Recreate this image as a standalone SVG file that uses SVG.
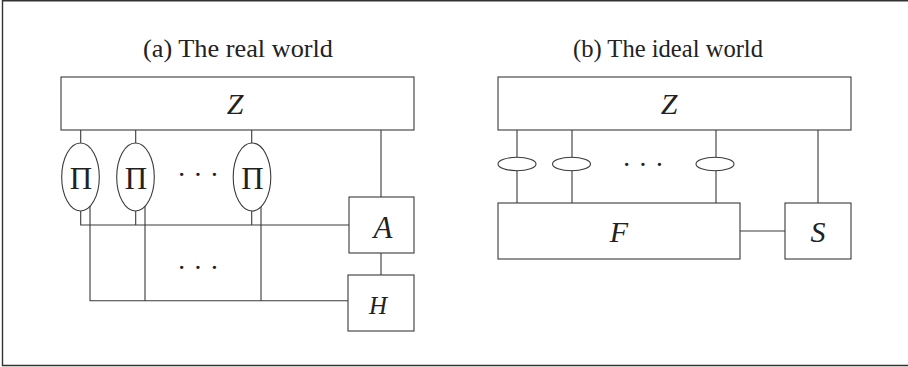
<svg xmlns="http://www.w3.org/2000/svg" width="908" height="367" viewBox="0 0 908 367">
<style>
.ln{stroke:#3a3a3a;stroke-width:1.1;fill:none}
.bx{stroke:#3a3a3a;stroke-width:1.1;fill:#fff}
.t{font-family:"Liberation Serif","DejaVu Serif",serif;fill:#222;text-anchor:middle}
.ttl{font-size:25px}
.m{font-style:italic;font-size:30px}
.pi{font-size:31px}
.dots{font-size:28px}
</style>
<rect x="0" y="0" width="908" height="367" fill="#fff"/>
<path d="M908,0.7 H2.5 V365.5 H908" fill="none" stroke="#333" stroke-width="1.4"/>
<text class="t ttl" x="238" y="57" textLength="190" lengthAdjust="spacingAndGlyphs">(a) The real world</text>
<text class="t ttl" x="668" y="57" textLength="190" lengthAdjust="spacingAndGlyphs">(b) The ideal world</text>
<g id="connectors">
<path class="ln" d="M80.7,130 V143 M135.7,130 V143 M251.7,130 V143 M381,130 V197"/>
<path class="ln" d="M80.7,210 V225 H349 M135.7,210 V225 M251.7,210 V225"/>
<path class="ln" d="M90,206 V300.7 H348 M145,206 V300.7 M261,206 V300.7"/>
<path class="ln" d="M381,253 V275"/>
<path class="ln" d="M517,130 V203 M572,130 V203 M716,130 V203 M818,130 V203"/>
<path class="ln" d="M740,231 H785"/>
</g>
<g id="Z-real"><rect class="bx" x="61" y="77" width="353" height="53"/><text class="t m" x="235" y="114">Z</text></g>
<g id="Pi-1"><ellipse class="bx" cx="80.5" cy="177" rx="18.8" ry="34"/><text class="t pi" x="81" y="188.5">Π</text></g>
<g id="Pi-2"><ellipse class="bx" cx="135.5" cy="177" rx="18.8" ry="34"/><text class="t pi" x="136" y="188.5">Π</text></g>
<g id="Pi-3"><ellipse class="bx" cx="252" cy="177" rx="18.8" ry="34"/><text class="t pi" x="252.5" y="188.5">Π</text></g>
<text class="t dots" x="198" y="184">· · ·</text>
<text class="t dots" x="198" y="277">· · ·</text>
<g id="A"><rect class="bx" x="349" y="197" width="65" height="56"/><text class="t m" x="383" y="238" style="font-size:31px">A</text></g>
<g id="H"><rect class="bx" x="348" y="275" width="66" height="56"/><text class="t m" x="378" y="313.5" style="font-size:25px">H</text></g>
<g id="Z-ideal"><rect class="bx" x="498" y="77" width="353" height="53"/><text class="t m" x="669" y="114">Z</text></g>
<g id="e1"><ellipse class="bx" cx="517" cy="164" rx="19" ry="6.7"/></g>
<g id="e2"><ellipse class="bx" cx="571.5" cy="164" rx="19" ry="6.7"/></g>
<g id="e3"><ellipse class="bx" cx="715" cy="164" rx="19" ry="6.7"/></g>
<text class="t dots" x="643" y="174">· · ·</text>
<g id="F"><rect class="bx" x="498" y="203" width="242" height="56"/><text class="t m" x="619" y="242">F</text></g>
<g id="S"><rect class="bx" x="785" y="203" width="66" height="56"/><text class="t m" x="818" y="242">S</text></g>
</svg>
